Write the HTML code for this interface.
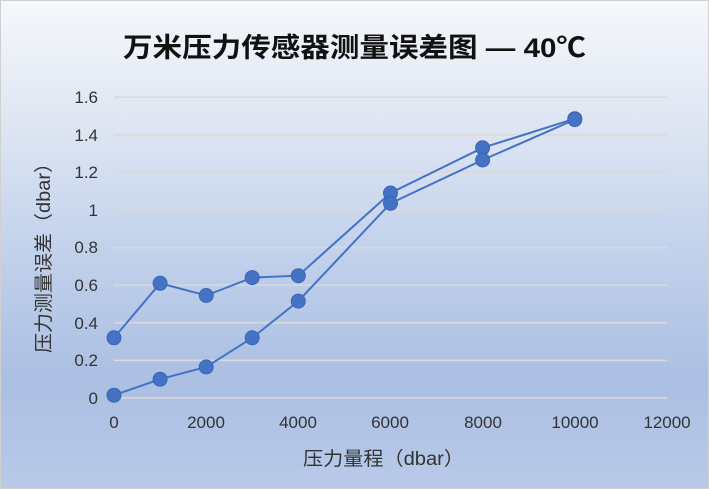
<!DOCTYPE html>
<html><head><meta charset="utf-8"><style>
html,body{margin:0;padding:0;}
body{width:709px;height:489px;overflow:hidden;}
.bg{position:absolute;left:0;top:0;width:707px;height:487px;border:1px solid #d0d0d0;
background:linear-gradient(180deg,#f5f7fb 0%,#dfe6f3 25%,#c3d2ec 50%,#abbfe3 78%,#b9cae9 100%);}
svg{position:absolute;left:0;top:0;}
text{font-family:"Liberation Sans","Noto Sans CJK SC",sans-serif;fill:#333;}
</style></head><body>
<div class="bg"></div>
<svg width="709" height="489" viewBox="0 0 709 489">
<text x="123" y="57" font-size="27" font-weight="bold" textLength="463" lengthAdjust="spacingAndGlyphs" style="fill:#111">万米压力传感器测量误差图 — 40℃</text>
<g stroke="#d9d9d9" stroke-width="1.5">
<line x1="114" x2="667" y1="398" y2="398"/><line x1="114" x2="667" y1="360.4" y2="360.4"/>
<line x1="114" x2="667" y1="322.8" y2="322.8"/><line x1="114" x2="667" y1="285.1" y2="285.1"/>
<line x1="114" x2="667" y1="247.5" y2="247.5"/><line x1="114" x2="667" y1="209.9" y2="209.9"/>
<line x1="114" x2="667" y1="172.3" y2="172.3"/><line x1="114" x2="667" y1="134.7" y2="134.7"/>
<line x1="114" x2="667" y1="97.1" y2="97.1"/>
</g>
<g font-size="17" text-anchor="end">
<text x="98" y="404">0</text><text x="98" y="366">0.2</text><text x="98" y="329">0.4</text>
<text x="98" y="291">0.6</text><text x="98" y="253">0.8</text><text x="98" y="216">1</text>
<text x="98" y="178">1.2</text><text x="98" y="141">1.4</text><text x="98" y="103">1.6</text>
</g>
<g font-size="17" text-anchor="middle">
<text x="114" y="428">0</text><text x="206" y="428">2000</text><text x="298" y="428">4000</text>
<text x="390" y="428">6000</text><text x="483" y="428">8000</text><text x="575" y="428">10000</text>
<text x="667" y="428">12000</text>
</g>
<text x="303" y="465" font-size="19" textLength="161" lengthAdjust="spacingAndGlyphs">压力量程（dbar）</text>
<text transform="translate(50,353) rotate(-90)" font-size="19" textLength="200" lengthAdjust="spacingAndGlyphs">压力测量误差（dbar）</text>
<g fill="none" stroke="#4472c4" stroke-width="2">
<polyline points="114,337.8 160.1,283.3 206.2,295.5 252.2,277.6 298.3,275.7 390.5,193 482.6,147.8 574.8,118.7"/>
<polyline points="114,395.2 160.1,379.2 206.2,367 252.2,337.8 298.3,301.1 390.5,203.3 482.6,160 574.8,119.6"/>
</g>
<g fill="#4472c4" stroke="#3b66b5" stroke-width="1">
<circle cx="114" cy="337.8" r="7"/><circle cx="160.1" cy="283.3" r="7"/><circle cx="206.2" cy="295.5" r="7"/>
<circle cx="252.2" cy="277.6" r="7"/><circle cx="298.3" cy="275.7" r="7"/><circle cx="390.5" cy="193" r="7"/>
<circle cx="482.6" cy="147.8" r="7"/><circle cx="574.8" cy="118.7" r="7"/>
<circle cx="114" cy="395.2" r="7"/><circle cx="160.1" cy="379.2" r="7"/><circle cx="206.2" cy="367" r="7"/>
<circle cx="252.2" cy="337.8" r="7"/><circle cx="298.3" cy="301.1" r="7"/><circle cx="390.5" cy="203.3" r="7"/>
<circle cx="482.6" cy="160" r="7"/><circle cx="574.8" cy="119.6" r="7"/>
</g>
</svg>
</body></html>
